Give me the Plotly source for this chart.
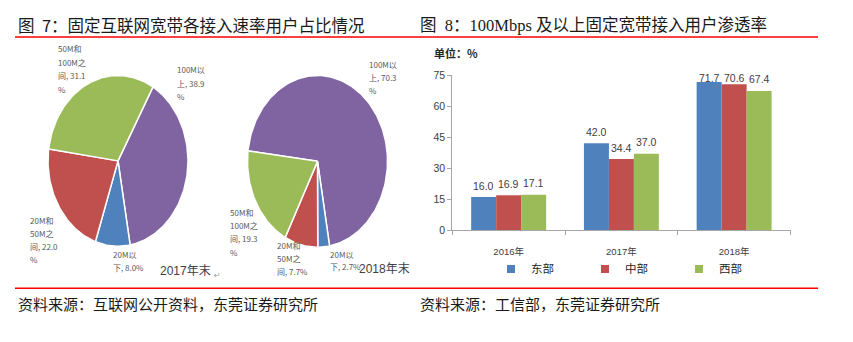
import math
import plotly.graph_objects as go

W, H = 853, 342

# ---- bar chart data: 100Mbps+ fixed broadband penetration by region (%) ----
years = ["2016年", "2017年", "2018年"]
regions = ["东部", "中部", "西部"]
east = [16.0, 42.0, 71.7]
central = [16.9, 34.4, 70.6]
west = [17.1, 37.0, 67.4]
y_ticks = [0, 15, 30, 45, 60, 75]

# ---- pie data: share of fixed broadband users by access speed (%) ----
speed_tiers = ["100M以上", "20M以下", "20M和50M之间", "50M和100M之间"]
share_2017 = [38.9, 8.0, 22.0, 31.1]
share_2018 = [70.3, 2.7, 7.7, 19.3]
pie_titles = ["2017年末", "2018年末"]

tier_colors = ["#8064A2", "#4F81BD", "#C0504D", "#9BBB59"]
region_colors = ["#4F81BD", "#C0504D", "#9BBB59"]

SANS = "Liberation Sans, Noto Sans CJK SC, sans-serif"
CJK = "Noto Sans CJK SC, sans-serif"
SERIF = "Liberation Serif, Noto Sans CJK SC, serif"
NBSP = "\u00a0"


def px_x(x):
    return x / W


def px_y(y):
    return 1 - y / H


fig = go.Figure()
annotations = []
shapes = []


def note(text, x, y, size, color, family=SANS, xanchor="left", yanchor="middle"):
    annotations.append(dict(
        text=text, x=px_x(x), y=px_y(y), xref="paper", yref="paper",
        xanchor=xanchor, yanchor=yanchor, showarrow=False,
        font=dict(size=size, color=color, family=family)))


# ---------------- pies (elliptical, drawn as filled wedges) ----------------
def wedge(start_deg, span_deg):
    n = max(int(span_deg / 1.5) + 2, 3)
    xs, ys = [0.0], [0.0]
    for k in range(n + 1):
        a = math.radians(start_deg + span_deg * k / n)
        xs.append(math.sin(a))
        ys.append(math.cos(a))
    xs.append(0.0)
    ys.append(0.0)
    return xs, ys


pie_specs = [
    # shares, start angle (clockwise from 12 o'clock), centre px, half-width, half-height
    (share_2017, 30.0, (118.0, 160.5), 70.0, 88.5, "x2", "y2"),
    (share_2018, 277.0, (317.5, 161.0), 70.0, 89.0, "x3", "y3"),
]
PAD = 1.03
for shares, start, (cx, cy), rx, ry, xa, ya in pie_specs:
    angle = start
    for tier, val, col in zip(speed_tiers, shares, tier_colors):
        span = val / sum(shares) * 360.0
        xs, ys = wedge(angle, span)
        fig.add_trace(go.Scatter(
            x=xs, y=ys, mode="lines", fill="toself", fillcolor=col,
            line=dict(color="white", width=1.5), name=tier,
            xaxis=xa, yaxis=ya, showlegend=False, hoverinfo="skip"))
        angle += span
    idx = xa[1:]
    fig.update_layout({
        f"xaxis{idx}": dict(domain=[px_x(cx - rx * PAD), px_x(cx + rx * PAD)],
                            range=[-PAD, PAD], visible=False, fixedrange=True),
        f"yaxis{idx}": dict(domain=[px_y(cy + ry * PAD), px_y(cy - ry * PAD)],
                            range=[-PAD, PAD], visible=False, fixedrange=True),
    })

# pie slice labels: (tier index, wrapped lines, left x, first line y, line step)
pie_labels = [
    (share_2017, [
        (3, ["50M和", "100M之", "间, {v}", "%"], 56.0, 44.0, 14.2),
        (0, ["100M以", "上, {v}", "%"], 175.0, 66.3, 13.7),
        (2, ["20M和", "50M之", "间, {v}", "%"], 28.3, 222.0, 13.4),
        (1, ["20M以", "下, {v}%"], 110.7, 257.3, 13.7),
    ]),
    (share_2018, [
        (0, ["100M以", "上, {v}", "%"], 366.7, 61.0, 13.2),
        (3, ["50M和", "100M之", "间, {v}", "%"], 227.7, 214.0, 13.7),
        (2, ["20M和", "50M之", "间, {v}%"], 275.0, 247.7, 13.5),
        (1, ["20M以", "下, {v}%"], 328.3, 258.0, 12.0),
    ]),
]
for shares, items in pie_labels:
    for ti, lines, lx, ly, step in items:
        for k, line in enumerate(lines):
            note(line.format(v=f"{shares[ti]:.1f}"), lx, ly + k * step, 8, "#595959", family=CJK)

note(pie_titles[0], 157.5, 275.0, 12, "#404040")
note(pie_titles[1], 356.5, 272.5, 12, "#404040")
note("↵", 212, 279, 8, "#9a9a9a", family="DejaVu Sans")

# ---------------- grouped bar chart ----------------
BARGAP = 0.335
for name, vals, col in zip(regions, [east, central, west], region_colors):
    fig.add_trace(go.Bar(
        x=years, y=vals, name=name, marker=dict(color=col, line=dict(width=0)),
        showlegend=False, hoverinfo="skip"))
    # small square legend key
    fig.add_trace(go.Scatter(
        x=[None], y=[None], mode="markers", name=name,
        marker=dict(symbol="square", size=8, color=col), showlegend=True))

# value labels above each bar, kept inside the 0-75 frame
bw = (1 - BARGAP) / 3
for j, vals in enumerate([east, central, west]):
    for i, v in enumerate(vals):
        annotations.append(dict(
            text=f"{v:.1f}", x=i + (j - 1) * bw, y=min(v + 5.6, 73.5),
            xref="x", yref="y", showarrow=False, xanchor="center", yanchor="middle",
            font=dict(size=10.5, color="#404040", family=SANS)))

AXIS_COL = "#A6A6A6"
fig.update_layout(
    xaxis=dict(domain=[px_x(452.3), px_x(790.5)], type="category",
               showline=True, linecolor=AXIS_COL, linewidth=1,
               ticks="outside", tickson="boundaries", ticklen=4, tickcolor=AXIS_COL,
               tickfont=dict(size=9.5, color="#404040", family=SANS),
               ticklabelstandoff=12, showgrid=False, fixedrange=True),
    yaxis=dict(domain=[px_y(232.3), px_y(71.7)], range=[0, 75], tickvals=y_ticks,
               showline=True, linecolor=AXIS_COL, linewidth=1,
               ticks="outside", ticklen=4, tickcolor=AXIS_COL,
               tickfont=dict(size=10.5, color="#404040", family=SANS),
               showgrid=False, zeroline=False, fixedrange=True),
    barmode="group", bargap=BARGAP, bargroupgap=0,
    legend=dict(orientation="h", x=px_x(491), y=px_y(272.5), xanchor="left", yanchor="middle",
                font=dict(size=11.5, color="#262626", family=CJK),
                entrywidth=49, entrywidthmode="pixels", itemwidth=30,
                bgcolor="rgba(0,0,0,0)", tracegroupgap=0),
)

note("<b>单位：%</b>", 432, 49, 11, "#262626", family=CJK)

# ---------------- headings, rules and sources ----------------
note(f"图{NBSP}{NBSP}7：固定互联网宽带各接入速率用户占比情况", 15.5, 20.0, 16.5, "#1a1a1a", family=CJK)
note(f"图{NBSP}{NBSP}8：100Mbps 及以上固定宽带接入用户渗透率", 417.5, 20.0, 16.5, "#1a1a1a", family=SERIF)
note("资料来源：互联网公开资料，东莞证券研究所", 15.5, 308.5, 15, "#1a1a1a", family=CJK)
note("资料来源：工信部，东莞证券研究所", 418.0, 308.5, 15, "#1a1a1a", family=CJK)

for yy in (32.0, 292.5):
    shapes.append(dict(type="line", xref="paper", yref="paper",
                       x0=px_x(15), x1=px_x(818), y0=px_y(yy), y1=px_y(yy),
                       line=dict(color="#FF0000", width=1.5)))

fig.update_layout(
    width=W, height=H, margin=dict(l=0, r=0, t=0, b=0),
    paper_bgcolor="white", plot_bgcolor="white",
    annotations=annotations, shapes=shapes,
    font=dict(family=SANS),
)

fig.write_html("out.html")
